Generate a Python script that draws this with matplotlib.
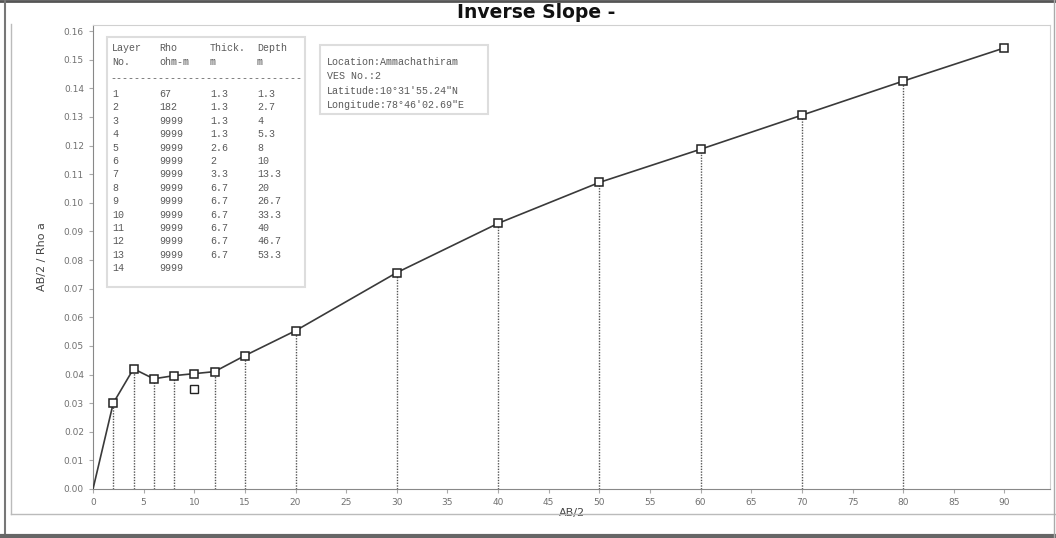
import matplotlib.pyplot as plt
from matplotlib.lines import Line2D

# sounding curve: AB/2 (m) against AB/2 / apparent resistivity
ab2 = [0, 2, 4, 6, 8, 10, 12, 15, 20, 30, 40, 50, 60, 70, 80, 90]
inv_slope = [0.0, 0.030, 0.042, 0.0385, 0.0396, 0.0403, 0.041, 0.0466, 0.0553,
             0.0756, 0.0928, 0.1071, 0.1187, 0.1306, 0.1425, 0.1541]
# stray reading at AB/2 = 10
extra_x = [10]
extra_y = [0.035]
# stations that get a drop line to the axis
drop_x = [2, 4, 6, 8, 12, 15, 20, 30, 40, 50, 60, 70, 80]

x_ticks = list(range(0, 95, 5))
y_ticks = [i / 100 for i in range(0, 17)]

# layer model table
layer_no = list(range(1, 15))
rho = ["67", "182"] + ["9999"] * 12
thick = ["1.3", "1.3", "1.3", "1.3", "2.6", "2", "3.3", "6.7", "6.7", "6.7",
         "6.7", "6.7", "6.7", ""]
depth = ["1.3", "2.7", "4", "5.3", "8", "10", "13.3", "20", "26.7", "33.3",
         "40", "46.7", "53.3", ""]

info_lines = ["Location:Ammachathiram", "VES No.:2",
              "Latitude:10\u00b031'55.24\"N", "Longitude:78\u00b046'02.69\"E"]

W, H = 1056, 538
fig = plt.figure(figsize=(W / 100, H / 100), dpi=100)
ax = fig.add_axes([93 / W, 1 - 489 / H, (1050 - 93) / W, (489 - 25) / H])

line_col = "#3a3a3a"
ax.plot(ab2, inv_slope, color=line_col, lw=1.2, zorder=3)
ax.plot(ab2[1:], inv_slope[1:], ls="none", marker="s", ms=5.2, mfc="white",
        mec="#222222", mew=1.1, zorder=4)
ax.plot(extra_x, extra_y, ls="none", marker="s", ms=5.5, mfc="white",
        mec="#222222", mew=1.0, zorder=4)
for xv in drop_x:
    yv = inv_slope[ab2.index(xv)]
    ax.vlines(xv, 0, yv, colors="#555555", lw=1.0, linestyles=(0, (1, 1)), zorder=2)

ax.set_xlim(0, 94.5)
ax.set_ylim(0, 0.1621)
ax.set_xticks(x_ticks)
ax.set_xticklabels([str(v) for v in x_ticks])
ax.set_yticks(y_ticks)
ax.set_yticklabels([f"{v:.2f}" for v in y_ticks])
ax.tick_params(labelsize=6.5, labelcolor="#707070", color="#aaaaaa", length=3, width=0.8)
for side in ("left", "bottom"):
    ax.spines[side].set_color("#888888")
for side in ("top", "right"):
    ax.spines[side].set_color("#d0d0d0")
ax.set_xlabel("AB/2", fontsize=8, color="#444444", labelpad=1)
ax.set_ylabel("AB/2 / Rho a", fontsize=8, color="#444444", labelpad=12)

# layer table
mono = dict(family="Liberation Mono", fontsize=7.2, color="#5a5a5a")
tx = [112, 159, 210, 257]


def fx(px):
    return px / W


def fy(py):
    return 1 - py / H


fig.add_artist(plt.Rectangle((fx(107), fy(287)), fx(305) - fx(107), fy(37) - fy(287),
                             transform=fig.transFigure, fc="white", ec="#dddddd", lw=1.5, zorder=5))
for col, (a, b) in zip(tx, [("Layer", "No."), ("Rho", "ohm-m"), ("Thick.", "m"), ("Depth", "m")]):
    fig.text(fx(col), fy(48), a, va="center", zorder=6, **mono)
    fig.text(fx(col), fy(62), b, va="center", zorder=6, **mono)
fig.text(fx(110), fy(78), "-" * 32, va="center", zorder=6, **mono)
for i in range(len(layer_no)):
    yy = fy(94 + i * 13.4)
    fig.text(fx(tx[0]), yy, str(layer_no[i]), va="center", zorder=6, **mono)
    fig.text(fx(tx[1]), yy, rho[i], va="center", zorder=6, **mono)
    fig.text(fx(tx[2]), yy, thick[i], va="center", zorder=6, **mono)
    fig.text(fx(tx[3]), yy, depth[i], va="center", zorder=6, **mono)

# site box
fig.add_artist(plt.Rectangle((fx(320), fy(114)), fx(488) - fx(320), fy(45) - fy(114),
                             transform=fig.transFigure, fc="white", ec="#dddddd", lw=1.5, zorder=5))
for i, s in enumerate(info_lines):
    fig.text(fx(327), fy(62 + i * 14.4), s, va="center", zorder=6, **mono)

fig.text(fx(536), fy(12), "Inverse Slope -", ha="center", va="center",
         fontsize=13.5, fontweight="bold", color="#111111")

# window frame
frame = [((0, W), (1, 1), "#555555", 2),
         ((5, 5), (0, 537), "#777777", 1.5),
         ((11, 11), (24, 514), "#bbbbbb", 1),
         ((11, 1056), (514, 514), "#bbbbbb", 1),
         ((0, W), (536, 536), "#666666", 3),
         ((1054, 1054), (0, 537), "#aaaaaa", 1)]
for xs, ys, c, lw in frame:
    fig.add_artist(Line2D([fx(xs[0]), fx(xs[1])], [fy(ys[0]), fy(ys[1])],
                          transform=fig.transFigure, color=c, lw=lw))

fig.savefig("out.png", dpi=100)
